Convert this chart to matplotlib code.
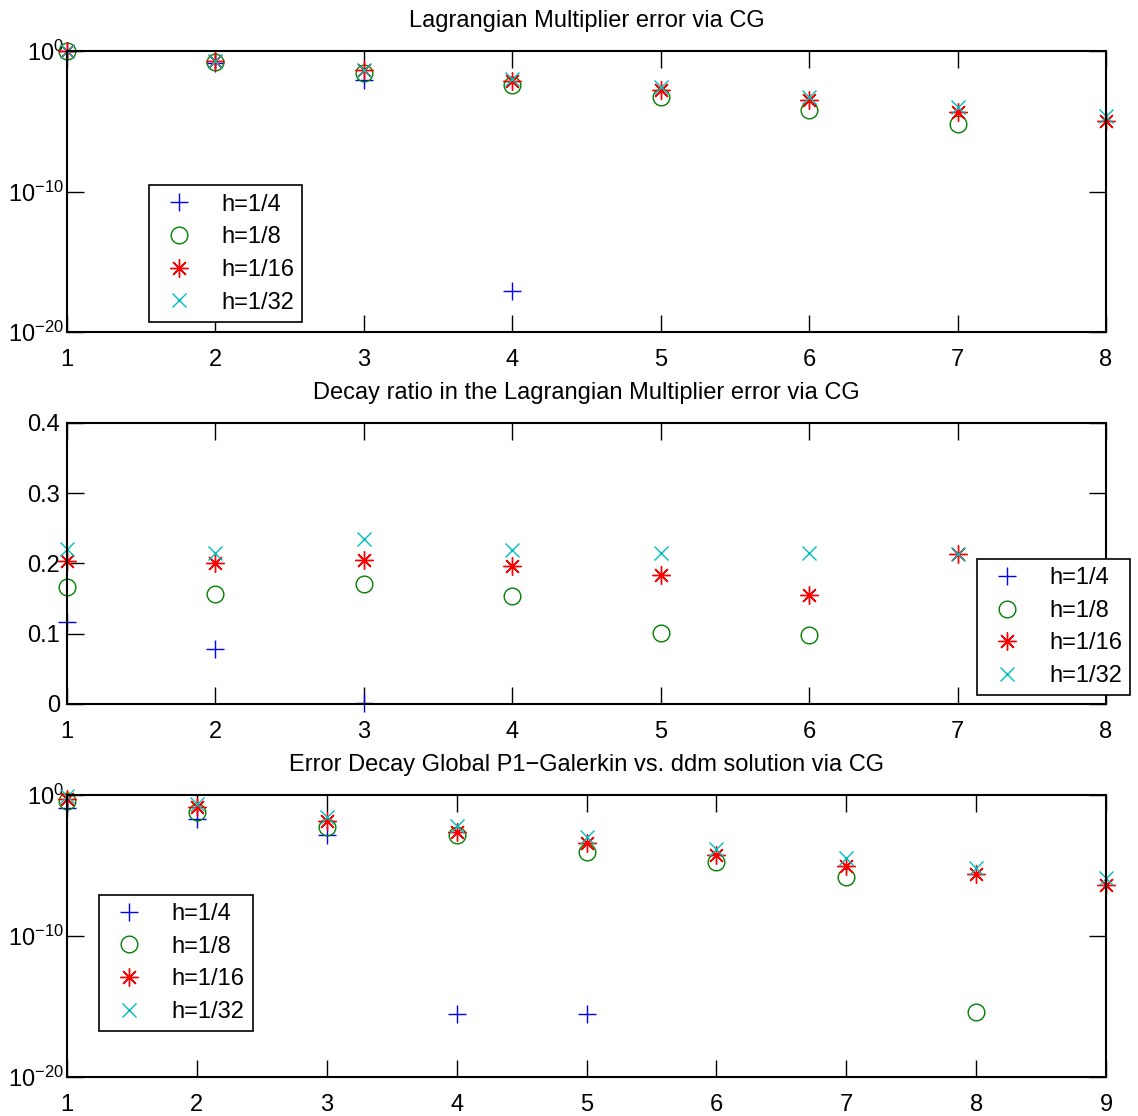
import numpy as np
import matplotlib.pyplot as plt

plt.rcParams['font.family'] = ['Liberation Sans', 'DejaVu Sans']
plt.rcParams['mathtext.fontset'] = 'custom'
plt.rcParams['mathtext.rm'] = 'Liberation Sans'
plt.rcParams['mathtext.it'] = 'Liberation Sans'

labels = ['h=1/4', 'h=1/8', 'h=1/16', 'h=1/32']

# panel 1: log10 of Lagrangian multiplier error, iterations 1..8
it1 = [1, 2, 3, 4, 5, 6, 7, 8]
err1_h4 = [0.0, -0.88, -2.07, -17.1, np.nan, np.nan, np.nan, np.nan]
err1_h8 = [0.0, -0.80, -1.60, -2.42, -3.25, -4.20, -5.22, np.nan]
err1_h16 = [0.0, -0.71, -1.35, -2.11, -2.78, -3.49, -4.32, -4.96]
err1_h32 = [0.0, -0.71, -1.35, -2.00, -2.58, -3.25, -4.00, -4.63]

# panel 2: decay ratio
it2 = [1, 2, 3, 4, 5, 6, 7]
ratio_h4 = [0.116, 0.078, 0.001, np.nan, np.nan, np.nan, np.nan]
ratio_h8 = [0.167, 0.157, 0.171, 0.154, 0.101, 0.098, np.nan]
ratio_h16 = [0.204, 0.200, 0.205, 0.197, 0.183, 0.155, 0.214]
ratio_h32 = [0.220, 0.215, 0.235, 0.219, 0.215, 0.215, 0.214]

# panel 3: log10 of error vs global P1-Galerkin, iterations 1..9
it3 = [1, 2, 3, 4, 5, 6, 7, 8, 9]
err3_h4 = [-0.90, -1.73, -2.82, -15.56, -15.56, np.nan, np.nan, np.nan, np.nan]
err3_h8 = [-0.43, -1.21, -2.28, -2.82, -4.06, -4.77, -5.84, -15.37, np.nan]
err3_h16 = [-0.30, -0.85, -1.85, -2.63, -3.42, -4.22, -5.00, -5.60, -6.36]
err3_h32 = [-0.10, -0.61, -1.56, -2.23, -2.99, -3.82, -4.46, -5.17, -5.88]

colors = ['#0000ff', '#008000', '#ff0000', '#00bfbf']
markers = ['+', 'o', (8, 2, 0), 'x']
msize = [13, 12, 13, 10]

fig = plt.figure(figsize=(11.38, 11.16), dpi=100)
ax1 = fig.add_axes([0.0589, 0.7025, 0.913, 0.2518])
ax2 = fig.add_axes([0.0589, 0.3692, 0.913, 0.2518])
ax3 = fig.add_axes([0.0589, 0.0349, 0.913, 0.2527])

leg_kw = dict(fontsize=17, frameon=True, fancybox=False, framealpha=1,
              borderpad=0.35, borderaxespad=0, handletextpad=0.9,
              labelspacing=0.45, handlelength=1.8)


def scatter_series(ax, x, series, log=False):
    for ys, c, m, s, lab in zip(series, colors, markers, msize, labels):
        ys = np.array(ys, dtype=float)
        if log:
            ys = 10.0 ** ys
        ax.plot(x, ys, linestyle='none', marker=m, color=c, markersize=s,
                markerfacecolor='none', markeredgewidth=1.0, label=lab, clip_on=False)


def style_axes(ax):
    for sp in ax.spines.values():
        sp.set_linewidth(1.5)
    ax.tick_params(which='both', direction='in', top=True, right=True,
                   length=12, width=1.0, labelsize=17)
    ax.tick_params(axis='x', pad=12)
    ax.tick_params(axis='y', pad=5)
    ax.tick_params(which='minor', length=0)


def style_legend(leg):
    leg.get_frame().set_edgecolor('black')
    leg.get_frame().set_linewidth(1.2)
    leg.get_frame().set_boxstyle('square', pad=0)


scatter_series(ax1, it1, [err1_h4, err1_h8, err1_h16, err1_h32], log=True)
ax1.set_yscale('log')
ax1.set_ylim(1e-20, 1)
ax1.set_xlim(1, 8)
ax1.set_yticks([1e-20, 1e-10, 1])
ax1.set_yticklabels([r'$10^{-20}$', r'$10^{-10}$', r'$10^{0}$'])
ax1.set_xticks(it1)
ax1.set_title('Lagrangian Multiplier error via CG', fontsize=17, pad=17)
style_axes(ax1)
ax1.tick_params(axis='y', labelsize=17, pad=2)
leg1 = ax1.legend(loc='lower left', bbox_to_anchor=(0.079, 0.036), **leg_kw)
style_legend(leg1)

scatter_series(ax2, it2, [ratio_h4, ratio_h8, ratio_h16, ratio_h32])
ax2.set_ylim(0, 0.4)
ax2.set_xlim(1, 8)
ax2.set_yticks([0, 0.1, 0.2, 0.3, 0.4])
ax2.set_yticklabels(['0', '0.1', '0.2', '0.3', '0.4'])
ax2.set_xticks(it1)
ax2.set_title('Decay ratio in the Lagrangian Multiplier error via CG', fontsize=17, pad=17)
style_axes(ax2)
leg2 = ax2.legend(loc='upper left', bbox_to_anchor=(0.876, 0.516), **leg_kw)
style_legend(leg2)

scatter_series(ax3, it3, [err3_h4, err3_h8, err3_h16, err3_h32], log=True)
ax3.set_yscale('log')
ax3.set_ylim(1e-20, 1)
ax3.set_xlim(1, 9)
ax3.set_yticks([1e-20, 1e-10, 1])
ax3.set_yticklabels([r'$10^{-20}$', r'$10^{-10}$', r'$10^{0}$'])
ax3.set_xticks(it3)
ax3.set_title('Error Decay Global P1\u2212Galerkin vs. ddm solution via CG', fontsize=17, pad=17)
style_axes(ax3)
ax3.tick_params(axis='y', labelsize=17, pad=2)
leg3 = ax3.legend(loc='lower left', bbox_to_anchor=(0.031, 0.163), **leg_kw)
style_legend(leg3)

fig.savefig('out.png', dpi=100)
